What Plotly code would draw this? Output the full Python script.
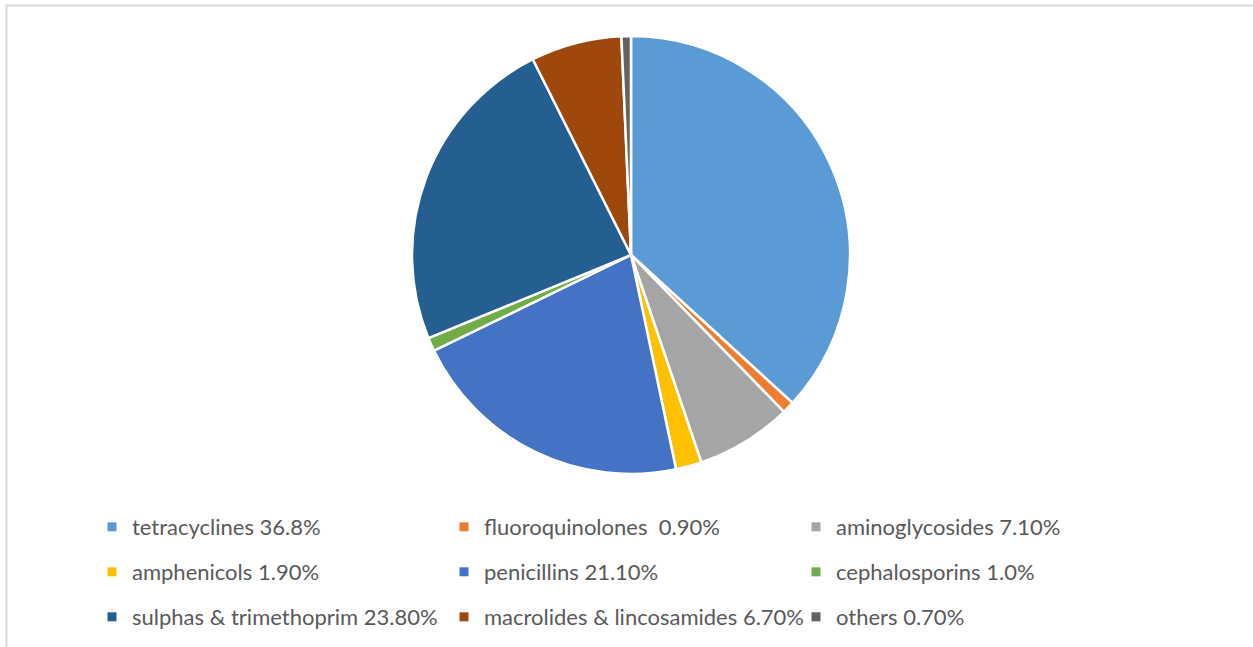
import plotly.graph_objects as go

categories = ["tetracyclines", "fluoroquinolones", "aminoglycosides", "amphenicols",
              "penicillins", "cephalosporins", "sulphas & trimethoprim",
              "macrolides & lincosamides", "others"]
values = [36.8, 0.9, 7.1, 1.9, 21.1, 1.0, 23.8, 6.7, 0.7]
legend_labels = ["tetracyclines 36.8%", "fluoroquinolones  0.90%", "aminoglycosides 7.10%",
                 "amphenicols 1.90%", "penicillins 21.10%", "cephalosporins 1.0%",
                 "sulphas & trimethoprim 23.80%", "macrolides & lincosamides 6.70%", "others 0.70%"]
colors = ["#5B9BD5", "#ED7D31", "#A5A5A5", "#FFC000", "#4472C4", "#70AD47",
          "#255E91", "#9E480E", "#636363"]

W, H = 1253, 647
fig = go.Figure()
fig.add_trace(go.Pie(
    labels=categories, values=values, sort=False, direction="clockwise", rotation=0,
    marker=dict(colors=colors, line=dict(color="white", width=2.5)),
    textinfo="none", hoverinfo="label+value", showlegend=False,
    domain=dict(x=[(631 - 219) / W, (631 + 219) / W], y=[1 - 474 / H, 1 - 36 / H]),
))

legend_names = ["legend", "legend2", "legend3"]
for i, (lab, col) in enumerate(zip(legend_labels, colors)):
    fig.add_trace(go.Scatter(
        x=[None], y=[None], mode="markers", name=lab,
        marker=dict(symbol="square", size=9, color=col),
        legend=legend_names[i // 3], showlegend=True,
    ))

row_y = [527, 572, 617]
leg_common = dict(orientation="h", xanchor="left", yanchor="middle",
                  entrywidth=307, entrywidthmode="pixels",
                  font=dict(family="Lato", size=22, color="#595959"),
                  bgcolor="rgba(0,0,0,0)", itemwidth=30, traceorder="normal")
layout_legends = {}
for k, name in enumerate(legend_names):
    layout_legends[name] = dict(leg_common, x=(98 - 6) / W, y=1 - row_y[k] / H)

fig.update_layout(
    width=W, height=H, margin=dict(l=0, r=0, t=0, b=0),
    paper_bgcolor="white", plot_bgcolor="white",
    xaxis=dict(visible=False), yaxis=dict(visible=False),
    shapes=[
        dict(type="line", xref="paper", yref="paper", x0=6 / W, x1=1, y0=1 - 5.5 / H, y1=1 - 5.5 / H,
             line=dict(color="#D9D9D9", width=2)),
        dict(type="line", xref="paper", yref="paper", x0=6.5 / W, x1=6.5 / W, y0=0, y1=1 - 5 / H,
             line=dict(color="#D9D9D9", width=2)),
    ],
    **layout_legends,
)

fig.write_html("out.html", config={"displayModeBar": False},
               post_script="document.body.style.margin='0';")
